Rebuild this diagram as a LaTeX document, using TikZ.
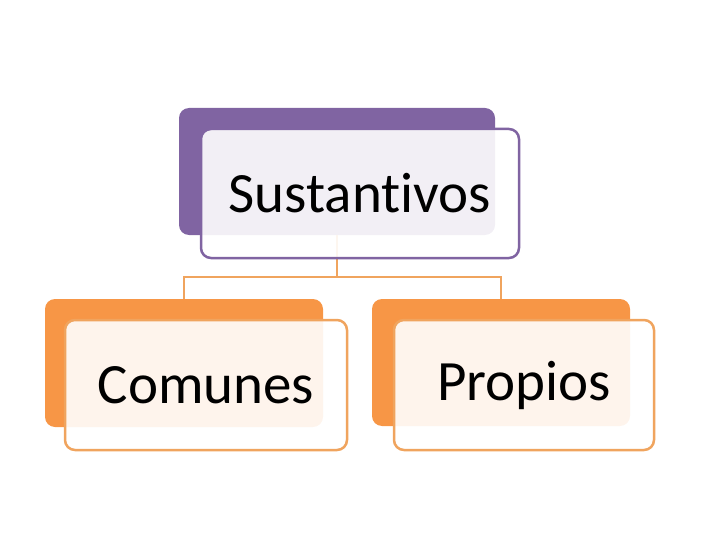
\documentclass[tikz,border=0pt]{standalone}
\usepackage{fontspec}
\setmainfont{Carlito}[Ligatures=CommonOff]
\definecolor{violeta}{HTML}{8064A2}
\definecolor{naranja}{HTML}{F79646}
\definecolor{naranjaline}{HTML}{F0A45E}
\tikzset{
  backbox/.style={shape=rectangle, rounded corners=10pt, draw=none, inner sep=0pt},
  frontbox/.style={shape=rectangle, rounded corners=10pt, line width=2.5pt, fill=white, fill opacity=0.9, text opacity=1, inner sep=0pt, font=\fontsize{57}{60}\selectfont},
}
\begin{document}
\begin{tikzpicture}[x=1pt, y=-1pt]
\useasboundingbox (0,0) rectangle (720,540);
\node [backbox, fill=violeta, minimum width=316pt, minimum height=127pt] (SustB) at (337,171.5) {};
\node [backbox, fill=naranja, minimum width=278pt, minimum height=128pt] (ComB) at (184,363) {};
\node [backbox, fill=naranja, minimum width=258pt, minimum height=127pt] (PropB) at (501,362.5) {};

\draw [naranjaline, line width=2.5pt] (SustB.south) -- ++(0,42) coordinate (J) -| (ComB.north);
\draw [naranjaline, line width=2.5pt] (J) -| (PropB.north);

\node [frontbox, draw=violeta, minimum width=318pt, minimum height=129pt] (Sust) at (360,193.5) {Sustantivos};
\node [frontbox, draw=naranjaline, minimum width=282pt, minimum height=130pt] (Com) at (206,385) {Comunes};
\node [frontbox, draw=naranjaline, minimum width=260pt, minimum height=130pt] (Prop) at (524,385) {Propios};
\end{tikzpicture}
\end{document}
